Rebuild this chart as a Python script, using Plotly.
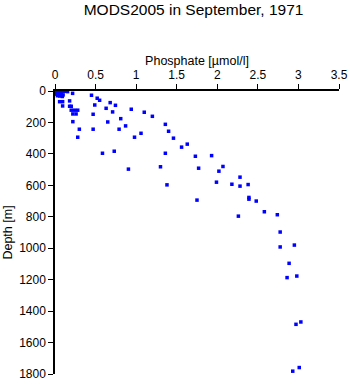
import plotly.graph_objects as go

title_text = "MODS2005 in September, 1971"
x_title = "Phosphate [µmol/l]"
y_title = "Depth [m]"

phosphate = [0.00, 0.03, 0.06, 0.09, 0.12, 0.155, 0.02, 0.05, 0.08, 0.00, 0.04, 0.07, 0.10, 0.217,
             0.03, 0.06, 0.09, 0.057, 0.094, 0.18, 0.094, 0.18, 0.20, 0.20, 0.24, 0.28, 0.22, 0.26,
             0.22, 0.30, 0.28, 0.45, 0.52, 0.55, 0.49, 0.47, 0.47, 0.63, 0.65, 0.585, 0.68, 0.71,
             0.745, 0.73, 0.79, 0.81, 0.87, 0.905, 0.94, 0.98, 1.06, 1.10, 1.20, 1.30, 1.36, 1.36,
             1.38, 1.40, 1.46, 1.56, 1.63, 1.73, 1.93, 1.77, 2.07, 2.02, 2.28, 1.99, 2.18, 2.28,
             2.38, 2.39, 2.39, 2.48, 1.75, 2.58, 2.74, 2.26, 2.775, 2.775, 2.95, 2.885, 2.86, 2.98,
             3.03, 2.97, 3.01, 2.93]
depth = [0, 0, 0, 0, 2, 4, 10, 10, 12, 20, 20, 22, 25, 15,
         30, 32, 35, 68, 68, 63, 95, 97, 97, 122, 122, 122, 146, 146,
         195, 243, 294, 27, 46, 59, 89, 148, 243, 110, 197, 396, 74, 133,
         91, 383, 243, 176, 222, 497, 116, 294, 269, 135, 161, 482, 212, 396,
         597, 256, 300, 357, 338, 415, 411, 491, 480, 510, 548, 580, 593, 605,
         595, 677, 688, 700, 694, 768, 787, 796, 897, 992, 980, 1096, 1187, 1177,
         1469, 1484, 1759, 1782]

x_ticks = [0, 0.5, 1, 1.5, 2, 2.5, 3, 3.5]
x_ticklabels = ["0", "0.5", "1", "1.5", "2", "2.5", "3", "3.5"]
y_ticks = [0, 200, 400, 600, 800, 1000, 1200, 1400, 1600, 1800]
y_ticklabels = [str(v) for v in y_ticks]

fig = go.Figure(go.Scatter(
    x=phosphate, y=depth, mode="markers",
    marker=dict(symbol="square", size=3.5, color="#0000ff", line=dict(width=0)),
    showlegend=False, cliponaxis=False,
))

font_family = "Liberation Sans, Arial, Helvetica, sans-serif"

fig.update_layout(
    width=350, height=384,
    margin=dict(l=55, r=11, t=91, b=10, autoexpand=False),
    paper_bgcolor="white", plot_bgcolor="white",
    font=dict(family=font_family, size=12, color="black"),
    title=dict(text=title_text, x=0.553, xanchor="center", y=0.975, yanchor="middle",
               font=dict(size=15.5, family=font_family, color="black")),
    xaxis=dict(
        side="top", range=[0, 3.5], tickvals=x_ticks, ticktext=x_ticklabels,
        ticks="outside", ticklen=5, tickwidth=1, tickcolor="black",
        showline=True, linecolor="black", linewidth=1.5,
        showgrid=False, zeroline=False, automargin=False,
        title=dict(text=x_title, font=dict(size=12.5), standoff=0),
        tickfont=dict(size=12),
    ),
    yaxis=dict(
        range=[1800, 0], tickvals=y_ticks, ticktext=y_ticklabels,
        ticks="outside", ticklen=5, tickwidth=1, tickcolor="black",
        showline=True, linecolor="black", linewidth=1.5,
        showgrid=False, zeroline=False, automargin=False,
        title=dict(text=y_title, font=dict(size=12.5), standoff=4),
        tickfont=dict(size=12),
    ),
)

fig.write_html("out.html")
